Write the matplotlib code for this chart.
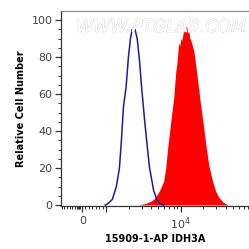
import numpy as np
import matplotlib
matplotlib.use('Agg')
import matplotlib.pyplot as plt
import matplotlib.patheffects as pe

# x values are in display "decades" (10^3 -> 3, 10^4 -> 4)
blue_x = [2.986, 3.014, 3.081, 3.135, 3.176, 3.203, 3.230, 3.266, 3.297, 3.324,
          3.347, 3.365, 3.385, 3.415, 3.446, 3.473, 3.514, 3.554, 3.581, 3.635,
          3.676, 3.730, 3.770]
blue_y = [0, 0.5, 3, 10, 20, 35, 53, 64, 80, 90,
          95, 94, 95, 90, 78, 64, 46, 30, 20, 8,
          3, 0.5, 0]

red_x = [3.432, 3.527, 3.595, 3.635, 3.689, 3.730, 3.770, 3.797, 3.824, 3.865,
         3.905, 3.932, 3.946, 3.959, 3.973, 3.986, 4.000, 4.014, 4.027, 4.041,
         4.054, 4.068, 4.081, 4.095, 4.108, 4.122, 4.135, 4.149, 4.176, 4.203,
         4.230, 4.257, 4.297, 4.338, 4.378, 4.432, 4.473, 4.514, 4.568, 4.635]
red_y = [0, 0.8, 2, 3, 6, 9, 13, 20, 31, 45,
         58, 72, 76, 82, 88, 86, 90, 89, 92, 95,
         94, 97, 96, 93, 94, 90, 89, 87, 83, 75,
         66, 57, 45, 32, 21, 12, 7, 4, 1.5, 0]

xlabel = '15909-1-AP IDH3A'
ylabel = 'Relative Cell Number'
x_major = [2.68, 3.0, 4.0]
x_major_labels = ['0', '', '$10^4$']
x_lin_minor = [2.40, 2.43, 2.47, 2.51, 2.54, 2.58, 2.60, 2.62, 2.63, 2.64, 2.65,
               2.72, 2.77, 2.81, 2.86, 2.90, 2.95]

fig = plt.figure(figsize=(2.49, 2.49), dpi=100)
ax = fig.add_axes([0.245, 0.173, 0.76, 0.783])

ax.fill_between(red_x, red_y, 0, color='#ff0000', lw=0)
ax.plot(blue_x, blue_y, color='#1c1c99', lw=1.1)

ax.set_xlim(2.392, 4.932)
ax.set_ylim(-0.5, 105)

ax.set_yticks([0, 20, 40, 60, 80, 100])
ax.set_yticks(np.arange(0, 105, 5), minor=True)
ax.set_xticks(x_major)
ax.set_xticklabels(x_major_labels)
log_minor = [d + np.log10(k) for d in (3, 4) for k in range(2, 10)]
ax.set_xticks(x_lin_minor + [v for v in log_minor if v < 4.93], minor=True)

ax.tick_params(axis='both', which='major', length=4, width=0.9, color='#333333',
               labelsize=8, labelcolor='#444444', pad=2)
ax.tick_params(axis='both', which='minor', length=2, width=0.7, color='#333333')
ax.tick_params(axis='x', which='major', pad=3)

for s in ['left', 'bottom']:
    ax.spines[s].set_color('#333333')
    ax.spines[s].set_linewidth(0.9)
ax.spines['top'].set_color('#888888')
ax.spines['top'].set_linewidth(0.8)
ax.spines['right'].set_visible(False)

ax.set_xlabel(xlabel, fontsize=7, fontweight='bold', labelpad=1)
ax.set_ylabel(ylabel, fontsize=7, fontweight='bold', labelpad=4)

ax.text(0.08, 0.965, 'WWW.PTGLAB.COM', transform=ax.transAxes, fontsize=12.5,
        style='italic', color='white', va='top', ha='left',
        path_effects=[pe.withStroke(linewidth=0.8, foreground='#dddddd')])

fig.savefig('out.png', dpi=100)
